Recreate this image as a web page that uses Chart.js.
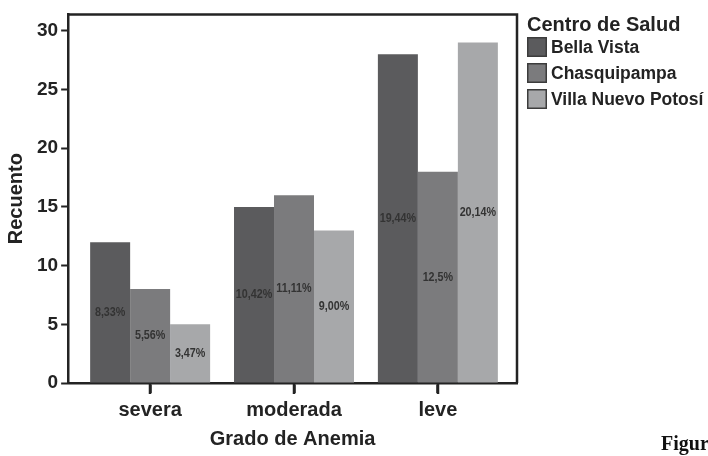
<!DOCTYPE html>
<html>
<head>
<meta charset="utf-8">
<script src="https://cdn.jsdelivr.net/npm/chart.js@4"></script>
<style>
    html, body { margin: 0; padding: 0; background: #fff; }
    #wrap { width: 708px; height: 456px; position: relative; }
</style>
</head>
<body>
<div id="wrap"><canvas id="anemiaChart"></canvas></div>
<script>
// datos del gráfico
const categories = ['severa', 'moderada', 'leve'];
const centros = ['Bella Vista', 'Chasquipampa', 'Villa Nuevo Potosí'];
const bellaVista = [12, 15, 28];
const chasquipampa = [8, 16, 18];
const villaNuevoPotosi = [5, 13, 29];
const pctBellaVista = ['8,33%', '10,42%', '19,44%'];
const pctChasquipampa = ['5,56%', '11,11%', '12,5%'];
const pctVilla = ['3,47%', '9,00%', '20,14%'];
const yTicks = [0, 5, 10, 15, 20, 25, 30];

const colores = ['#5b5b5d', '#7b7b7d', '#a7a8aa'];
const inkColor = '#232323';
const mainFont = "'Liberation Sans', Arial, sans-serif";

// cada categoría en su posición (0, 1, 2) del eje x
function toPoints(values) {
    return values.map((v, i) => ({ x: i, y: v }));
}

// marco, marcas del eje x, porcentajes, leyenda y pie de figura
const extrasPlugin = {
    id: 'extras',
    afterDraw(chart) {
        const ctx = chart.ctx;
        const a = chart.chartArea;
        ctx.save();

        // marco superior y derecho
        ctx.strokeStyle = inkColor;
        ctx.lineWidth = 2.5;
        ctx.beginPath();
        ctx.moveTo(a.left, a.top);
        ctx.lineTo(a.right, a.top);
        ctx.lineTo(a.right, a.bottom);
        ctx.stroke();

        // marcas bajo cada categoría (centro de la barra del medio)
        ctx.fillStyle = inkColor;
        chart.getDatasetMeta(1).data.forEach(bar => {
            const px = Math.round(bar.x);
            ctx.fillRect(px - 1.25, a.bottom, 2.5, 11);
        });

        // porcentajes dentro de las barras (letra estrecha)
        const pcts = [pctBellaVista, pctChasquipampa, pctVilla];
        ctx.fillStyle = '#333';
        ctx.font = "bold 12.5px 'Liberation Sans', sans-serif";
        ctx.textAlign = 'center';
        ctx.textBaseline = 'middle';
        chart.data.datasets.forEach((ds, i) => {
            chart.getDatasetMeta(i).data.forEach((bar, j) => {
                const midY = (bar.y + bar.base) / 2;
                ctx.save();
                ctx.translate(bar.x, midY);
                ctx.scale(0.86, 1);
                ctx.fillText(pcts[i][j], 0, 0);
                ctx.restore();
            });
        });

        // leyenda
        const lx = a.right + 10;
        ctx.fillStyle = inkColor;
        ctx.textAlign = 'left';
        ctx.textBaseline = 'middle';
        ctx.font = 'bold 20px ' + mainFont;
        ctx.fillText('Centro de Salud', lx, 25);
        ctx.font = 'bold 17.5px ' + mainFont;
        chart.data.datasets.forEach((ds, i) => {
            const top = 37 + i * 26;
            ctx.fillStyle = ds.backgroundColor;
            ctx.fillRect(lx, top, 20, 20);
            ctx.strokeStyle = '#3c3c3c';
            ctx.lineWidth = 1.5;
            ctx.strokeRect(lx + 0.75, top + 0.75, 18.5, 18.5);
            ctx.fillStyle = inkColor;
            ctx.fillText(ds.label, lx + 24, top + 11);
        });

        // pie de figura recortado
        ctx.fillStyle = '#111';
        ctx.font = "bold 20px 'Liberation Serif', 'DejaVu Serif', serif";
        ctx.textBaseline = 'alphabetic';
        ctx.fillText('Figura', 661, 450);
        ctx.restore();
    }
};

const ctx = document.getElementById('anemiaChart').getContext('2d');
const chart = new Chart(ctx, {
    type: 'bar',
    data: {
        datasets: [
            { label: centros[0], data: toPoints(bellaVista), backgroundColor: colores[0] },
            { label: centros[1], data: toPoints(chasquipampa), backgroundColor: colores[1] },
            { label: centros[2], data: toPoints(villaNuevoPotosi), backgroundColor: colores[2] }
        ]
    },
    options: {
        responsive: true,
        maintainAspectRatio: false,
        animation: false,
        layout: {
            padding: { left: 2, top: 13, right: 191, bottom: 5 }
        },
        datasets: {
            bar: {
                categoryPercentage: 0.834,
                barPercentage: 1.0,
                borderWidth: 0
            }
        },
        plugins: {
            tooltip: { enabled: false },
            legend: { display: false }
        },
        scales: {
            x: {
                type: 'linear',
                offset: false,
                min: -0.57,
                max: 2.55,
                afterBuildTicks(axis) {
                    axis.ticks = categories.map((c, i) => ({ value: i }));
                },
                grid: {
                    display: true,
                    offset: false,
                    drawOnChartArea: false,
                    drawTicks: true,
                    tickLength: 10,
                    tickWidth: 2.5,
                    tickColor: inkColor
                },
                border: { display: true, color: inkColor, width: 2.5 },
                ticks: {
                    color: inkColor,
                    font: { family: mainFont, size: 20, weight: 'bold' },
                    padding: 5,
                    maxRotation: 0,
                    callback: value => categories[value]
                },
                title: {
                    display: true,
                    text: 'Grado de Anemia',
                    color: inkColor,
                    font: { family: mainFont, size: 20, weight: 'bold' },
                    padding: { top: 0, bottom: 0 }
                }
            },
            y: {
                min: 0,
                max: 31.4,
                afterBuildTicks(axis) {
                    axis.ticks = yTicks.map(v => ({ value: v }));
                },
                grid: {
                    display: true,
                    drawOnChartArea: false,
                    drawTicks: true,
                    tickLength: 7,
                    tickWidth: 2,
                    tickColor: inkColor
                },
                border: { display: true, color: inkColor, width: 2.5 },
                ticks: {
                    color: inkColor,
                    font: { family: mainFont, size: 19, weight: 'bold' },
                    padding: 3
                },
                title: {
                    display: true,
                    text: 'Recuento',
                    color: inkColor,
                    font: { family: mainFont, size: 20, weight: 'bold' },
                    padding: { top: 2, bottom: 6 }
                }
            }
        }
    },
    plugins: [extrasPlugin]
});
</script>
</body>
</html>
